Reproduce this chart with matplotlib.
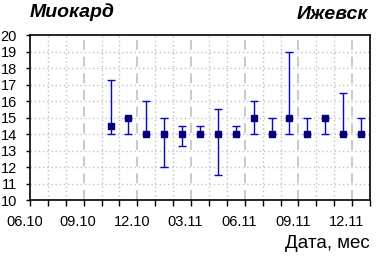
import matplotlib
matplotlib.use("Agg")
import matplotlib.pyplot as plt
import matplotlib.transforms as mtransforms
import numpy as np

plt.rcParams['font.family'] = ['Liberation Sans', 'DejaVu Sans']

# months since 06.2010 (data sits mid-month)
start_year, start_month = 2010, 6
dates = ["2010-10", "2010-11", "2010-12", "2011-01", "2011-02", "2011-03",
         "2011-04", "2011-05", "2011-06", "2011-07", "2011-08", "2011-09",
         "2011-10", "2011-11", "2011-12"]
values = [14.5, 15, 14, 14, 14, 14, 14, 14, 15, 14, 15, 14, 15, 14, 14]
upper = [17.25, 15, 16, 15, 14.5, 14.5, 15.5, 14.5, 16, 15, 19, 15, 15, 16.5, 15]
lower = [14, 14, 14, 12, 13.25, 14, 11.5, 14, 14, 14, 14, 14, 14, 14, 14]

tick_labels = ["06.10", "09.10", "12.10", "03.11", "06.11", "09.11", "12.11"]


def month_index(s):
    y, m = map(int, s.split("-"))
    return (y - start_year) * 12 + (m - start_month)


x = np.array([month_index(d) for d in dates]) + 0.5
vals = np.array(values)
err = np.vstack([vals - np.array(lower), np.array(upper) - vals])

fig = plt.figure(figsize=(3.89, 2.56), dpi=100)
ax = fig.add_axes([0.0771, 0.21875, 0.874, 0.6445])

ax.set_xlim(0, 19)
ax.set_ylim(10, 20)

# grid
ax.set_xticks(np.arange(0, 20, 1), minor=True)
ax.set_xticks(np.arange(0, 19, 3))
ax.set_xticklabels(tick_labels)
ax.set_yticks(np.arange(10, 21, 1))
for m in range(1, 19):
    if m % 3 == 0:
        ax.axvline(m, color="#c0c0c0", lw=1.2, ls=(0, (6, 4)), zorder=0)
    else:
        ax.axvline(m, color="#c0c0c0", lw=1.0, ls=(0, (1, 2)), zorder=0)
for v in range(11, 20):
    ax.axhline(v, color="#c0c0c0", lw=1.0, ls=(0, (1, 2)), zorder=0)

ax.errorbar(x, vals, yerr=err, fmt="none", ecolor="#0000ff", elinewidth=1.0,
            capsize=2.6, capthick=1.0, zorder=2)
ax.plot(x, vals, ls="none", marker="s", ms=5, color="#000080",
        mec="#000080", zorder=3)

ax.tick_params(axis="x", which="both", direction="out", length=4, width=1,
               pad=7, labelsize=10.5)
ax.tick_params(axis="x", which="minor", length=4)
ax.tick_params(axis="y", direction="out", length=3, width=1, pad=6.5,
               labelsize=10.5)
offset = mtransforms.ScaledTranslation(-5.5 / 100, 0, fig.dpi_scale_trans)
for lbl in ax.get_xticklabels():
    lbl.set_transform(lbl.get_transform() + offset)

for sp in ax.spines.values():
    sp.set_linewidth(1.2)

fig.text(0.077, 0.951, "Миокард", fontsize=14, fontweight="bold",
         fontstyle="italic", ha="left", va="center")
fig.text(0.946, 0.945, "Ижевск", fontsize=14, fontweight="bold",
         fontstyle="italic", ha="right", va="center")
fig.text(0.951, 0.05, "Дата, мес", fontsize=13.5, ha="right", va="center")

fig.savefig("out.png", dpi=100)
